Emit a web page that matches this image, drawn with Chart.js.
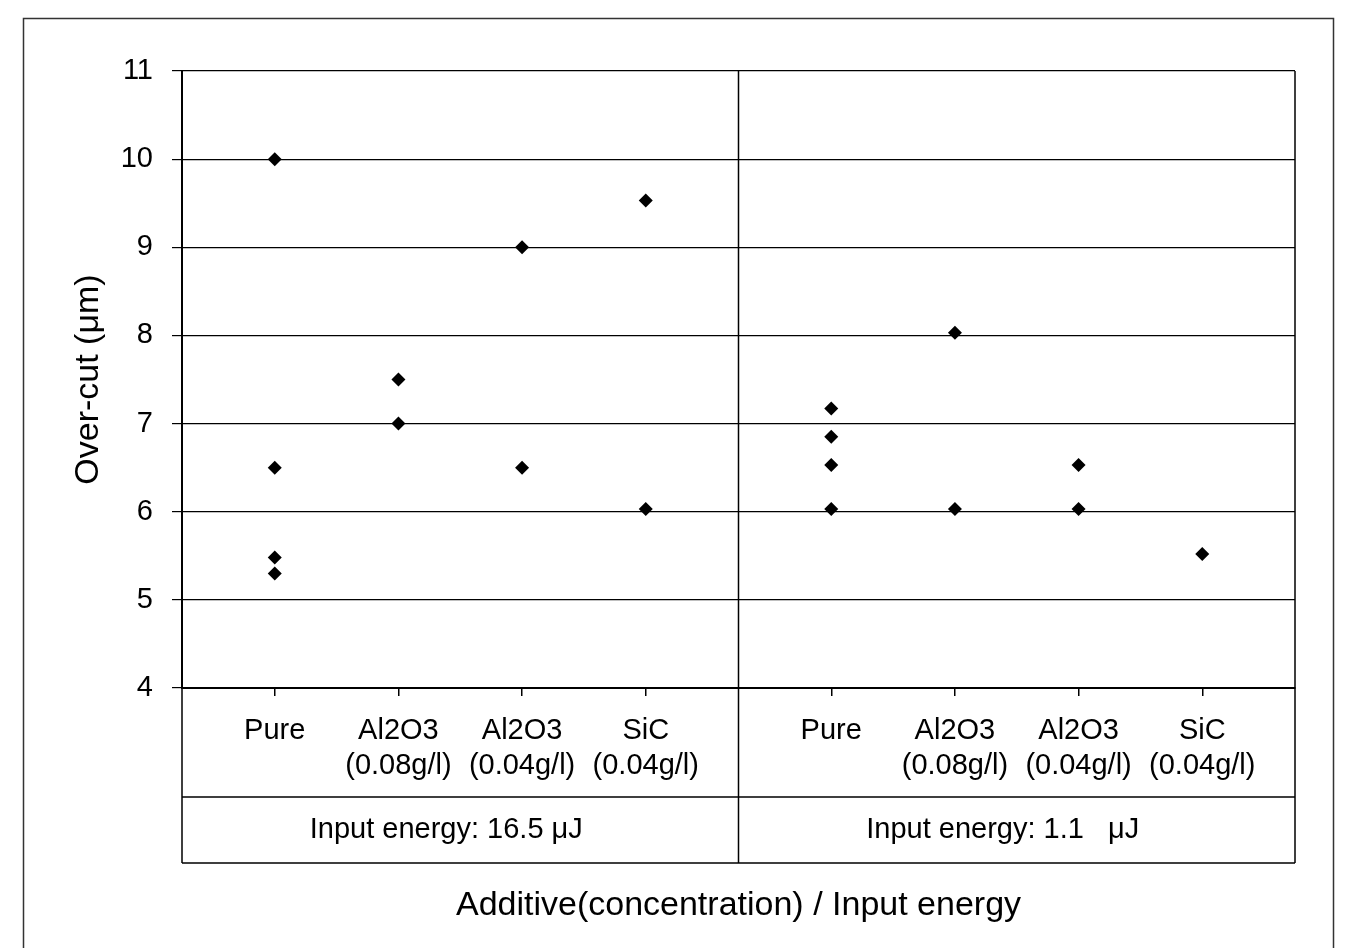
<!DOCTYPE html>
<html>
<head>
<meta charset="utf-8">
<script src="https://cdn.jsdelivr.net/npm/chart.js@4"></script>
<style>
html, body { margin: 0; padding: 0; background: #fff; }
#wrap { width: 1355px; height: 948px; }
</style>
</head>
<body>
<div id="wrap"><canvas id="overcutChart"></canvas></div>
<script>
// category labels (two lines where needed) and where they sit on the x scale
const categories = [
    ['Pure'], ['Al2O3', '(0.08g/l)'], ['Al2O3', '(0.04g/l)'], ['SiC', '(0.04g/l)'],
    ['Pure'], ['Al2O3', '(0.08g/l)'], ['Al2O3', '(0.04g/l)'], ['SiC', '(0.04g/l)']
];
const categoryX = [1, 2, 3, 4, 5.5, 6.5, 7.5, 8.5];

// over-cut readings (um) for each category
const overcutValues = [
    [10.0, 6.5, 5.48, 5.3],
    [7.5, 7.0],
    [9.0, 6.5],
    [9.53, 6.03],
    [7.17, 6.85, 6.53, 6.03],
    [8.03, 6.03],
    [6.53, 6.03],
    [5.52]
];

const groupLabels = ['Input energy: 16.5 \u03bcJ', 'Input energy: 1.1   \u03bcJ'];
const groupBounds = [[0.25, 4.75], [4.75, 9.25]];
const yTicks = [4, 5, 6, 7, 8, 9, 10, 11];

const points = [];
overcutValues.forEach((vals, i) => {
    vals.forEach(v => points.push({ x: categoryX[i], y: v }));
});

// draws the divider, the right border, the energy table and the outer frame
const panelTable = {
    id: 'panelTable',
    afterDraw(chart) {
        const ctx = chart.ctx;
        const area = chart.chartArea;
        const x = chart.scales.x;
        const rowTop = area.bottom + 109;
        const tableBottom = area.bottom + 175;
        ctx.save();
        ctx.strokeStyle = '#000';
        ctx.lineWidth = 1.5;
        ctx.beginPath();
        // right border of plot + table
        ctx.moveTo(area.right, area.top);
        ctx.lineTo(area.right, tableBottom);
        // divider between the two energy groups
        const divX = x.getPixelForValue(groupBounds[0][1]);
        ctx.moveTo(divX, area.top);
        ctx.lineTo(divX, tableBottom);
        // left edge of table
        ctx.moveTo(area.left, area.bottom);
        ctx.lineTo(area.left, tableBottom);
        ctx.moveTo(area.left, rowTop);
        ctx.lineTo(area.right, rowTop);
        ctx.moveTo(area.left, tableBottom);
        ctx.lineTo(area.right, tableBottom);
        ctx.stroke();

        ctx.fillStyle = '#000';
        ctx.font = '29px "Liberation Sans", Arial, sans-serif';
        ctx.textAlign = 'center';
        ctx.textBaseline = 'middle';
        groupLabels.forEach((lbl, i) => {
            const l = x.getPixelForValue(groupBounds[i][0]);
            const r = x.getPixelForValue(groupBounds[i][1]);
            ctx.fillText(lbl, (l + r) / 2 - 14, (rowTop + tableBottom) / 2);
        });

        // outer frame
        ctx.strokeStyle = '#333';
        ctx.lineWidth = 1.5;
        ctx.strokeRect(23.5, 18.5, 1310, 980);
        ctx.restore();
    }
};

const ctx = document.getElementById('overcutChart').getContext('2d');
new Chart(ctx, {
    type: 'scatter',
    data: {
        datasets: [{
            label: 'Over-cut',
            data: points,
            pointStyle: 'rectRot',
            pointRadius: 7,
            backgroundColor: '#000',
            borderColor: '#000',
            borderWidth: 0
        }]
    },
    options: {
        responsive: true,
        maintainAspectRatio: false,
        animation: false,
        devicePixelRatio: 1,
        layout: { padding: { top: 71, right: 60, left: 0, bottom: 0 } },
        plugins: {
            legend: { display: false },
            tooltip: { enabled: false }
        },
        scales: {
            x: {
                type: 'linear',
                min: groupBounds[0][0],
                max: groupBounds[1][1],
                afterBuildTicks: scale => {
                    scale.ticks = categoryX.map(v => ({ value: v }));
                },
                afterFit: scale => { scale.height = 260; },
                ticks: {
                    autoSkip: false,
                    maxRotation: 0,
                    padding: 18,
                    color: '#000',
                    font: { family: '"Liberation Sans", Arial, sans-serif', size: 29, lineHeight: 1.2 },
                    callback: (value, index) => categories[index]
                },
                grid: {
                    drawOnChartArea: false,
                    drawTicks: true,
                    tickLength: 8,
                    color: '#000',
                    lineWidth: 1.5
                },
                border: { display: true, color: '#000', width: 2 },
                title: {
                    display: true,
                    text: 'Additive(concentration) / Input energy',
                    color: '#000',
                    font: { family: '"Liberation Sans", Arial, sans-serif', size: 34 },
                    padding: { top: 0, bottom: 22 }
                }
            },
            y: {
                min: 4,
                max: 11,
                afterBuildTicks: scale => {
                    scale.ticks = yTicks.map(v => ({ value: v }));
                },
                afterFit: scale => { scale.width = 182; },
                ticks: {
                    padding: 19,
                    color: '#000',
                    font: { family: '"Liberation Sans", Arial, sans-serif', size: 29 }
                },
                grid: {
                    color: '#000',
                    lineWidth: 1.2,
                    tickLength: 10
                },
                border: { display: true, color: '#000', width: 2 },
                title: {
                    display: true,
                    text: 'Over-cut (\u03bcm)',
                    color: '#000',
                    font: { family: '"Liberation Sans", Arial, sans-serif', size: 34 },
                    padding: { top: 68, bottom: 0 }
                }
            }
        }
    },
    plugins: [panelTable]
});
</script>
</body>
</html>
